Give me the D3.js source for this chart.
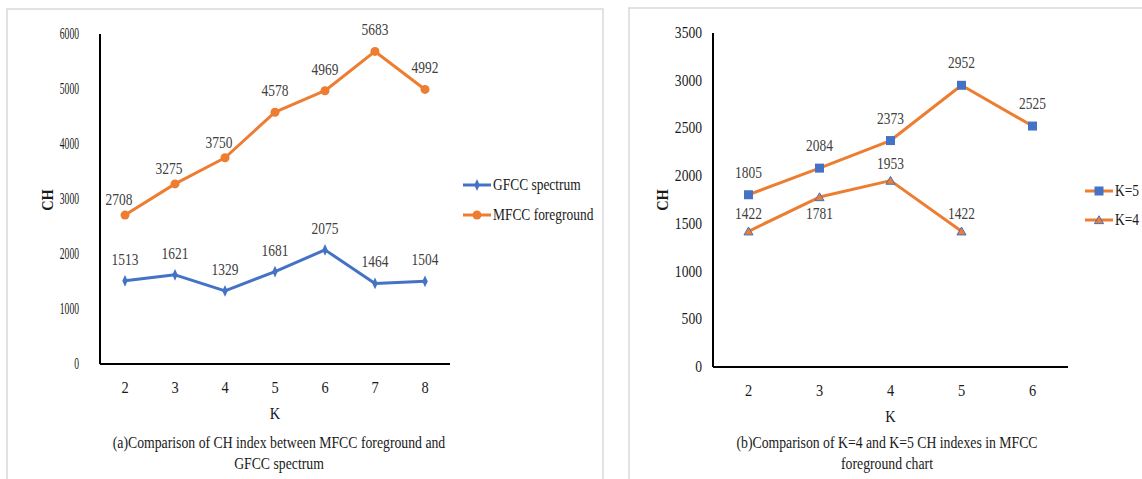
<!DOCTYPE html>
<html>
<head>
  <meta charset="utf-8">
  <title>CH index comparison</title>
  <script src="https://d3js.org/d3.v7.min.js"></script>
  <style>
    body { margin: 0; background: #fff; }
    text { font-family: "Liberation Serif", "Times New Roman", Times, "DejaVu Serif", serif; }
    .panel { fill: none; stroke: #d9d9d9; stroke-width: 1.5; }
    .axis-line { stroke: #000; stroke-width: 2; }
  </style>
</head>
<body>
  <svg id="chart" width="1142" height="479"></svg>

  <script>
    // chart (a)
    const kA = ["2", "3", "4", "5", "6", "7", "8"];
    const gfcc = [1513, 1621, 1329, 1681, 2075, 1464, 1504];
    const mfcc = [2708, 3275, 3750, 4578, 4969, 5683, 4992];
    const ticksA = [0, 1000, 2000, 3000, 4000, 5000, 6000];

    // chart (b)
    const kB = ["2", "3", "4", "5", "6"];
    const k5 = [1805, 2084, 2373, 2952, 2525];
    const k4 = [1422, 1781, 1953, 1422];
    const ticksB = [0, 500, 1000, 1500, 2000, 2500, 3000, 3500];

    const blue = "#4472c4", orange = "#ed7d31";
    const svg = d3.select("#chart");

    // panel frames
    svg.append("rect").attr("class", "panel").attr("x", 7).attr("y", 9).attr("width", 596).attr("height", 490);
    svg.append("rect").attr("class", "panel").attr("x", 629).attr("y", 8).attr("width", 530).attr("height", 490);

    // text helper, the original text is squeezed horizontally
    function label(g, x, y, str, opts) {
      opts = opts || {};
      const t = g.append("g")
        .attr("transform", `translate(${x},${y}) rotate(${opts.rotate || 0}) scale(${opts.sx || 1},1)`)
        .append("text")
        .attr("text-anchor", opts.anchor || "middle")
        .attr("font-size", opts.size || 16)
        .attr("fill", opts.color || "#262626")
        .text(str);
      if (opts.bold) t.attr("font-weight", "bold");
      return t;
    }

    function drawChart(cfg) {
      const g = svg.append("g");
      const x = d3.scalePoint().domain(cfg.cats).range([cfg.left, cfg.right]).padding(0.5);
      const y = d3.scaleLinear().domain([0, cfg.max]).range([cfg.bottom, cfg.top]);

      // axes lines
      g.append("line").attr("class", "axis-line")
        .attr("x1", cfg.left).attr("x2", cfg.left).attr("y1", cfg.top).attr("y2", cfg.bottom);
      g.append("line").attr("class", "axis-line")
        .attr("x1", cfg.left).attr("x2", cfg.right).attr("y1", cfg.bottom).attr("y2", cfg.bottom);

      // y tick labels
      cfg.ticks.forEach(v => label(g, cfg.left - cfg.tickGap, y(v) + 5, v, { anchor: "end", sx: cfg.tickSx, color: "#1a1a1a" }));
      // x tick labels
      cfg.cats.forEach(c => label(g, x(c), cfg.bottom + 29, c, { sx: 0.9, color: "#1a1a1a" }));

      label(g, x(cfg.cats[Math.floor(cfg.cats.length / 2)]), cfg.bottom + 55, "K", { sx: 0.9, color: "#1a1a1a" });
      label(g, cfg.chX, 200, "CH", { rotate: -90, bold: true, sx: 0.9, color: "#1a1a1a" });

      // caption
      label(g, cfg.capX, 448, cfg.caption[0], { size: 16, sx: 0.86, color: "#1a1a1a" });
      label(g, cfg.capX, 469, cfg.caption[1], { size: 16, sx: 0.86, color: "#1a1a1a" });

      const line = d3.line().x(d => x(d.k)).y(d => y(d.v));

      cfg.series.forEach((s, i) => {
        const pts = s.values.map((v, j) => ({ k: cfg.cats[j], v: v }));
        g.append("path").datum(pts)
          .attr("d", line).attr("fill", "none")
          .attr("stroke", s.lineColor).attr("stroke-width", 3).attr("stroke-linejoin", "round");

        pts.forEach((p, j) => {
          const px = x(p.k), py = y(p.v);
          drawMarker(g, s, px, py);
          let dy = -(s.lift || 16), dx = 0;
          if (s.near && s.near.includes(j)) { dy = -10; dx = -6; }
          if (s.below && s.below.includes(j)) dy = 22;
          label(g, px + dx, py + dy, p.v, { sx: 0.84, color: "#404040" });
        });

        // legend entry
        const ly = cfg.legY + i * cfg.legGap;
        g.append("line").attr("x1", cfg.legX).attr("x2", cfg.legX + 28).attr("y1", ly).attr("y2", ly)
          .attr("stroke", s.lineColor).attr("stroke-width", 3);
        drawMarker(g, s, cfg.legX + 14, ly);
        label(g, cfg.legX + 30, ly + 5, s.name, { anchor: "start", sx: 0.84, color: "#1a1a1a" });
      });
    }

    function drawMarker(g, s, px, py) {
      if (s.marker === "diamond") {
        g.append("path").attr("d", d3.symbol(d3.symbolDiamond, 40)())
          .attr("transform", `translate(${px},${py}) scale(0.8,1)`).attr("fill", blue);
      } else if (s.marker === "circle") {
        g.append("circle").attr("cx", px).attr("cy", py).attr("r", 4.5).attr("fill", orange);
      } else if (s.marker === "square") {
        g.append("rect").attr("x", px - 4.5).attr("y", py - 4.5).attr("width", 9).attr("height", 9).attr("fill", blue);
      } else if (s.marker === "triangle") {
        g.append("path").attr("d", d3.symbol(d3.symbolTriangle, 36)())
          .attr("transform", `translate(${px},${py + 1})`)
          .attr("fill", orange).attr("stroke", blue).attr("stroke-width", 1);
      }
    }

    drawChart({
      cats: kA, max: 6000, ticks: ticksA,
      left: 100, right: 450, top: 34, bottom: 364,
      tickSx: 0.6, tickGap: 21, chX: 53, capX: 279,
      caption: ["(a)Comparison of CH index between MFCC foreground and", "GFCC spectrum"],
      legX: 463, legY: 185, legGap: 30,
      series: [
        { name: "GFCC spectrum", values: gfcc, lineColor: blue, marker: "diamond" },
        { name: "MFCC foreground", values: mfcc, lineColor: orange, marker: "circle", near: [0, 1, 2] }
      ]
    });

    drawChart({
      cats: kB, max: 3500, ticks: ticksB,
      left: 713, right: 1068, top: 33, bottom: 367,
      tickSx: 0.85, tickGap: 11, chX: 668, capX: 887,
      caption: ["(b)Comparison of K=4 and K=5 CH indexes in MFCC", "foreground chart"],
      legX: 1085, legY: 191, legGap: 29,
      series: [
        { name: "K=5", values: k5, lineColor: orange, marker: "square", lift: 17 },
        { name: "K=4", values: k4, lineColor: orange, marker: "triangle", lift: 12, below: [1] }
      ]
    });
  </script>
</body>
</html>
